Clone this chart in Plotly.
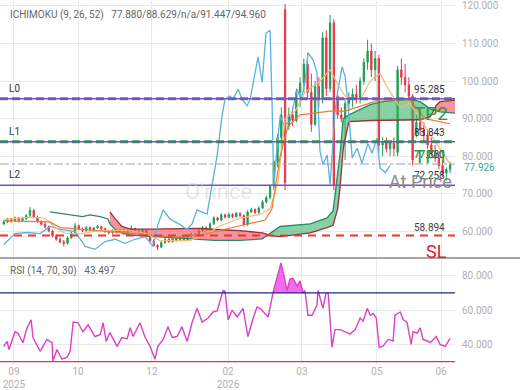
import plotly.graph_objects as go

# ---------------- data ----------------
opens = [62.0, 62.5, 63.2, 62.8, 63.5, 62.9, 63.4, 64.2, 65.6, 63.8,
         62.6, 61.9, 61.2, 60.1, 58.8, 57.9, 57.2, 56.8, 58.3, 59.6,
         61.5, 60.6, 60.2, 61.0, 60.4, 60.9, 61.3, 60.7, 60.0, 59.6,
         60.2, 59.8, 60.4, 59.5, 60.1, 60.8, 60.0, 59.2, 60.3, 58.7,
         57.5, 56.2, 55.8, 57.0, 57.9, 57.3, 58.1, 57.6, 58.4, 57.8,
         58.6, 59.3, 58.9, 60.2, 61.0, 60.5, 62.0, 63.6, 63.0, 64.4,
         63.8, 64.5, 63.9, 64.8, 64.2, 61.8, 65.2, 65.8, 65.0, 66.2,
         67.8, 69.0, 72.0, 78.5, 85.0, 119.0, 88.0, 91.0, 89.5, 97.0,
         99.5, 104.5, 97.0, 88.5, 98.5, 95.0, 111.5, 98.0, 115.5, 96.0,
         91.0, 90.0, 94.0, 95.0, 96.5, 95.0, 100.0, 105.0, 108.0, 103.0,
         106.0, 83.0, 84.0, 82.0, 83.5, 81.0, 103.0, 101.0, 99.0, 96.0,
         86.0, 89.0, 87.0, 85.5, 83.0, 81.0, 79.5, 77.5, 75.5, 76.5]
highs = [63.0, 63.6, 63.5, 64.0, 63.8, 63.9, 64.6, 66.5, 65.9, 64.2,
         63.0, 62.6, 61.6, 60.5, 59.3, 58.4, 57.7, 58.7, 59.9, 62.3,
         61.8, 61.0, 61.4, 61.3, 61.2, 61.7, 61.5, 61.0, 60.3, 60.6,
         60.5, 60.8, 60.6, 60.5, 61.6, 61.0, 60.3, 60.7, 60.5, 59.0,
         57.9, 56.6, 57.4, 58.3, 58.2, 58.5, 58.4, 58.8, 58.6, 59.0,
         59.6, 59.5, 60.5, 61.4, 61.3, 62.4, 64.0, 63.9, 64.8, 64.7,
         65.0, 64.8, 65.2, 65.1, 64.5, 65.6, 66.3, 66.1, 66.7, 68.3,
         69.5, 72.5, 79.0, 86.0, 93.0, 120.5, 93.0, 93.0, 98.0, 101.0,
         106.0, 107.5, 102.0, 100.0, 101.0, 113.0, 113.5, 117.6, 116.5, 97.0,
         93.0, 95.0, 97.0, 98.0, 99.0, 101.0, 106.0, 111.0, 110.0, 108.0,
         107.0, 85.0, 85.0, 84.0, 85.0, 104.0, 106.0, 104.5, 101.0, 96.5,
         91.0, 90.0, 89.0, 87.0, 85.0, 83.0, 81.0, 79.0, 77.0, 78.5]
lows = [61.6, 62.2, 62.3, 62.5, 62.4, 62.6, 63.0, 63.9, 63.5, 62.3,
        61.5, 60.8, 59.8, 58.4, 57.5, 56.8, 56.0, 56.5, 58.0, 59.3,
        60.2, 59.8, 59.9, 60.1, 60.0, 60.6, 60.4, 59.6, 59.2, 59.3,
        59.4, 59.5, 59.1, 59.2, 59.8, 59.7, 58.9, 59.0, 58.4, 57.2,
        55.9, 55.0, 55.5, 56.7, 56.9, 57.0, 57.2, 57.3, 57.4, 57.5,
        58.3, 58.5, 58.6, 59.9, 60.1, 60.2, 61.7, 62.6, 62.7, 63.4,
        63.5, 63.5, 63.6, 63.8, 61.3, 61.5, 64.9, 64.6, 64.7, 65.9,
        67.4, 68.5, 71.0, 77.0, 80.0, 71.0, 87.0, 88.0, 89.0, 93.0,
        97.0, 95.0, 86.5, 88.0, 93.0, 94.0, 96.0, 97.0, 71.0, 90.0,
        89.0, 79.0, 92.0, 93.0, 94.0, 94.0, 99.0, 103.0, 101.0, 100.0,
        81.0, 80.0, 81.0, 80.0, 80.0, 80.0, 99.0, 97.0, 95.0, 77.5,
        85.0, 86.0, 84.0, 82.0, 80.0, 78.5, 76.5, 74.5, 73.5, 75.5]
closes = [62.5, 63.2, 62.8, 63.5, 62.9, 63.4, 64.2, 65.6, 63.8, 62.6,
          61.9, 61.2, 60.1, 58.8, 57.9, 57.2, 56.8, 58.3, 59.6, 61.5,
          60.6, 60.2, 61.0, 60.4, 60.9, 61.3, 60.7, 60.0, 59.6, 60.2,
          59.8, 60.4, 59.5, 60.1, 60.8, 60.0, 59.2, 60.3, 58.7, 57.5,
          56.2, 55.8, 57.0, 57.9, 57.3, 58.1, 57.6, 58.4, 57.8, 58.6,
          59.3, 58.9, 60.2, 61.0, 60.5, 62.0, 63.6, 63.0, 64.4, 63.8,
          64.5, 63.9, 64.8, 64.2, 61.8, 65.2, 65.8, 65.0, 66.2, 67.8,
          69.0, 72.0, 78.5, 85.0, 91.0, 73.0, 91.0, 89.5, 97.0, 99.5,
          104.5, 97.0, 88.5, 98.5, 95.0, 111.5, 98.0, 115.5, 72.5, 91.0,
          90.0, 94.0, 95.0, 96.5, 95.0, 100.0, 105.0, 108.0, 103.0, 106.0,
          83.0, 84.0, 82.0, 83.5, 82.0, 103.0, 101.0, 99.0, 96.0, 79.0,
          89.0, 87.0, 85.5, 83.0, 81.0, 79.5, 77.5, 75.5, 76.5, 77.926]
bar_idx = list(range(len(closes)))

x_tickvals = [2.7, 19.8, 39.5, 59.8, 79.5, 99.5, 116.6]
x_ticktext = ["09<br>2025", "10", "12", "02<br>2026", "03", "05", "06"]

chikou_x = [0, 3, 6.2, 9.7, 12.3, 15, 19, 21.7, 24.3, 27, 29.7, 32.3, 35, 37.7, 39.8,
            41.1, 42.5, 44.3, 47, 48.9, 50.2, 51.5, 54.2, 55, 56.9, 58.2, 59, 60.3,
            61.1, 62.5, 63.5, 64.9, 65.7, 67.8, 68.9, 69.9, 71, 71.5, 72, 72.6, 73.7,
            74.7, 76.3, 78.2, 79.3, 80.3, 81.1, 82.5, 83.5, 84.3, 85.1, 86.2, 87,
            88.3, 89.1, 90.2, 91, 91.8, 92.9, 94.2, 95.5, 97.1, 98.2, 99.5, 100.3,
            101.7, 103]
chikou_y = [56.5, 59.4, 59.7, 59.4, 61.3, 60.5, 60.0, 56.0, 55.2, 57.3, 57.9, 56.8, 57.9,
            58.6, 56.0, 61.8, 65.7, 63.3, 61.8, 60.5, 62.0, 65.7, 64.6, 69.1, 80.3,
            90.8, 95.2, 96.0, 95.2, 97.8, 95.2, 93.4, 95.2, 106.4, 99.6, 112.7, 113.5,
            95.2, 71.7, 79.5, 90.8, 88.2, 89.2, 97.8, 95.2, 99.6, 107.5, 105.6, 102.2,
            81.4, 77.7, 80.3, 72.5, 91.8, 97.8, 103.8, 101.2, 93.4, 79.5, 82.1, 78.2,
            83.4, 80.8, 84.8, 76.9, 75.6, 77.5]

tenkan_x = [0, 7, 11, 13.7, 16.3, 20.3, 25.7, 33.7, 37.7, 41.7, 49.7, 53.7, 57.7, 63,
            68.3, 71, 73.1, 75, 77.7, 80.3, 84.3, 87, 89.1, 91, 95, 97.7, 100.3, 103,
            105.7, 108.3, 111, 115, 119]
tenkan_y = [63.2, 63.8, 63.5, 61.0, 59.5, 59.3, 60.3, 60.2, 59.5, 57.5, 57.6, 59.0, 61.5,
            63.5, 64.5, 66.0, 73.0, 90.0, 92.0, 97.0, 100.0, 103.0, 99.0, 96.0, 95.0,
            100.0, 102.0, 97.0, 93.0, 94.0, 90.0, 84.0, 77.88]

kijun_x = [0, 12.3, 15, 28.3, 39, 45.7, 52.3, 56.3, 63, 69.7, 71.5, 73.7, 75.8, 79, 87,
           91, 100.3, 108.3, 112.3, 119]
kijun_y = [62.8, 62.5, 61.0, 60.0, 59.0, 58.5, 59.0, 60.0, 61.5, 63.0, 66.0, 80.0, 88.0,
           91.0, 92.0, 92.0, 95.0, 95.0, 90.0, 88.629]

cloud_x = [12.3, 17, 21, 23, 25.7, 27.8, 28.3, 29.7, 31.5, 33.7, 39, 47, 52.3, 56.3, 63,
           68.9, 71.5, 73.7, 81.7, 86.2, 87.8, 89, 89.7, 90.5, 92, 97.7, 101, 108.3,
           111, 113.7, 115.3, 116.3, 120.3]
senkou_a = [65.2, 64.4, 63.9, 64.4, 63.9, 63.3, 62.0, 60.5, 59.5, 59.0, 58.7, 58.3, 57.9,
            57.6, 57.6, 58.0, 59.8, 61.3, 62.0, 63.6, 65.5, 76.0, 81.0, 90.0, 91.0, 93.7,
            94.5, 95.2, 94.5, 92.6, 92.0, 91.8, 91.447]
senkou_b = [None, None, None, None, None, None, 65.2, 63.3, 61.3, 60.6, 60.6, 60.8, 60.8,
            60.5, 60.2, 59.6, 58.8, 58.6, 59.6, 61.0, 61.6, 66.0, 72.0, 82.0, 89.2, 89.5,
            89.5, 89.5, 89.7, 90.5, 93.5, 94.5, 94.96]

rsi_x = [0, 0.9, 1.4, 3, 3.8, 5.1, 6.2, 7.3, 7.8, 9.7, 11.5, 12.9, 13.1, 14.2, 15.5, 16.9,
         17.7, 18.5, 19.8, 21.1, 22.5, 24.3, 25.7, 26.5, 27.3, 28.3, 30.2, 31.5, 32.9,
         33.7, 34.5, 36.3, 37.7, 39, 40.3, 41.1, 42.5, 43.8, 44.9, 46.2, 47.5, 48.9, 50.2,
         51.5, 52.9, 54.5, 55.8, 56.9, 57.7, 58.5, 59, 59.8, 60.9, 62.2, 63.8, 65.1, 66.5,
         67.5, 68.3, 70.5, 71.8, 73.1, 73.9, 74.7, 75.5, 76.3, 77.1, 78.2, 79, 79.8, 80.3,
         81.1, 82.2, 83.5, 83.8, 85.1, 85.9, 86.5, 87.5, 88.3, 89.7, 91.5, 92.3, 93.7, 95,
         95.8, 96.9, 97.7, 98.5, 99.3, 100.1, 101.1, 102.5, 103.8, 104.3, 105.7, 106.5,
         107.5, 108.6, 109.1, 110.2, 111, 111.8, 112.9, 113.7, 115.3, 116.3, 117.7, 119]
rsi_v = [38.9, 41.7, 37.0, 47.4, 46.5, 41.0, 49.7, 54.3, 44.0, 36.0, 42.9, 41.0, 30.3,
         37.0, 31.4, 32.6, 36.0, 53.0, 52.6, 47.4, 51.4, 44.6, 45.7, 52.6, 41.7, 46.9,
         38.9, 44.0, 43.4, 49.7, 44.6, 52.6, 44.0, 38.9, 31.4, 38.9, 42.9, 50.3, 44.0,
         44.6, 50.3, 41.7, 52.6, 61.0, 53.0, 55.4, 58.9, 59.5, 65.7, 71.4, 71.0, 54.3,
         60.0, 56.0, 61.0, 44.6, 55.4, 61.7, 61.0, 56.0, 70.3, 80.0, 87.5, 80.0, 71.4,
         78.0, 78.5, 74.0, 77.0, 70.0, 71.4, 57.0, 57.0, 62.9, 71.4, 61.0, 69.7, 69.7,
         38.3, 48.6, 48.6, 46.9, 46.0, 48.6, 55.4, 53.5, 61.0, 57.0, 58.0, 55.4, 38.3,
         39.0, 42.9, 42.0, 57.0, 58.9, 54.3, 53.0, 40.0, 47.4, 46.5, 49.7, 42.9, 42.0,
         41.0, 44.6, 40.0, 38.9, 43.497]

rsi_upper, rsi_lower = 70, 30
level_names = ["L0", "L1", "L2"]
level_values = [95.285, 83.843, 72.258]
tp_names = ["TP2", "TP1"]
current_price = 77.926
tenkan_last = 77.880
stop_loss = 58.894

ichimoku_text = "ICHIMOKU (9, 26, 52)&nbsp;&nbsp;&nbsp;77.880/88.629/n/a/91.447/94.960"
rsi_text = "RSI (14, 70, 30)&nbsp;&nbsp;&nbsp;43.497"

# ---------------- style ----------------
FONT = "Roboto, Arial, sans-serif"
GRID = "#e9e9e9"
TICK = "#b0b0b0"
UP, DOWN = "#1f9d55", "#e5364b"
PURPLE, LGREEN = "#7b4fc4", "#2e9a45"
X_RANGE = [-1, 120.3]
SPLIT = 108 / 370.0

fig = go.Figure()


def cloud_runs(xs, a, b):
    pts = [(x, p, q) for x, p, q in zip(xs, a, b) if p is not None and q is not None]
    runs, cur = [], [pts[0]]
    for (x0, a0, b0), (x1, a1, b1) in zip(pts, pts[1:]):
        d0, d1 = a0 - b0, a1 - b1
        if d0 * d1 < 0:
            t = d0 / (d0 - d1)
            xc, yc = x0 + t * (x1 - x0), a0 + t * (a1 - a0)
            cur.append((xc, yc, yc))
            runs.append(cur)
            cur = [(xc, yc, yc)]
        cur.append((x1, a1, b1))
    runs.append(cur)
    return runs


for run in cloud_runs(cloud_x, senkou_a, senkou_b):
    xs = [p[0] for p in run]
    ya = [p[1] for p in run]
    yb = [p[2] for p in run]
    up = sum(ya) >= sum(yb)
    fig.add_trace(go.Scatter(x=xs, y=yb, mode="lines", line=dict(width=0),
                             hoverinfo="skip", showlegend=False))
    fig.add_trace(go.Scatter(x=xs, y=ya, mode="lines", line=dict(width=0),
                             fill="tonexty",
                             fillcolor="rgba(60,180,110,0.62)" if up else "rgba(240,80,95,0.62)",
                             hoverinfo="skip", showlegend=False))

fig.add_trace(go.Scatter(x=cloud_x, y=senkou_a, mode="lines",
                         line=dict(color="#2a8a66", width=1.3), showlegend=False))
fig.add_trace(go.Scatter(x=cloud_x, y=senkou_b, mode="lines",
                         line=dict(color="#9b2d3c", width=1.3), showlegend=False))
fig.add_trace(go.Scatter(x=chikou_x, y=chikou_y, mode="lines",
                         line=dict(color="#5cb0e0", width=1.3), showlegend=False))
fig.add_trace(go.Candlestick(x=bar_idx, open=opens, high=highs, low=lows, close=closes,
                             increasing=dict(line=dict(color=UP, width=1), fillcolor=UP),
                             decreasing=dict(line=dict(color=DOWN, width=1), fillcolor=DOWN),
                             whiskerwidth=0, showlegend=False))
fig.add_trace(go.Scatter(x=tenkan_x, y=tenkan_y, mode="lines",
                         line=dict(color="#f6b874", width=1.2), showlegend=False))
fig.add_trace(go.Scatter(x=kijun_x, y=kijun_y, mode="lines",
                         line=dict(color="#ec7c32", width=1.2), showlegend=False))

# RSI overbought fill
seg = []
segs = []
pts = list(zip(rsi_x, rsi_v))
for (x0, v0), (x1, v1) in zip(pts, pts[1:]):
    if (v0 - rsi_upper) * (v1 - rsi_upper) < 0:
        xc = x0 + (rsi_upper - v0) / (v1 - v0) * (x1 - x0)
        if v0 > rsi_upper:
            seg.append((xc, rsi_upper))
            segs.append(seg)
            seg = []
        else:
            seg = [(xc, rsi_upper)]
    if v1 >= rsi_upper:
        seg.append((x1, v1))
if seg:
    segs.append(seg)
for s in segs:
    xs = [p[0] for p in s]
    ys = [p[1] for p in s]
    fig.add_trace(go.Scatter(x=xs + xs[::-1], y=ys + [rsi_upper] * len(xs), fill="toself",
                             mode="lines", line=dict(width=0), fillcolor="rgba(245,80,235,0.85)",
                             xaxis="x2", yaxis="y2", hoverinfo="skip", showlegend=False))
fig.add_trace(go.Scatter(x=rsi_x, y=rsi_v, mode="lines", line=dict(color="#dd3fc8", width=1.4),
                         xaxis="x2", yaxis="y2", showlegend=False))

shapes = []
for lv in level_values[:2]:
    shapes.append(dict(type="line", xref="paper", x0=0, x1=1, yref="y", y0=lv, y1=lv,
                       line=dict(color=LGREEN, width=3, dash="8px,4px"), layer="above"))
for lv in level_values:
    shapes.append(dict(type="line", xref="paper", x0=0, x1=1, yref="y", y0=lv, y1=lv,
                       line=dict(color=PURPLE, width=1.4), layer="above"))
shapes.append(dict(type="line", xref="paper", x0=0, x1=1, yref="y", y0=current_price,
                   y1=current_price, line=dict(color="#a0a0a0", width=1, dash="dashdot"),
                   layer="above"))
shapes.append(dict(type="line", xref="paper", x0=0, x1=1, yref="y", y0=stop_loss, y1=stop_loss,
                   line=dict(color="#e53935", width=2, dash="8px,6px"), layer="above"))
for v, c in [(rsi_upper, "#1f2a80"), (rsi_lower, "#e53935")]:
    shapes.append(dict(type="line", xref="paper", x0=0, x1=1, yref="y2", y0=v, y1=v,
                       line=dict(color=c, width=1.3), layer="above"))
shapes.append(dict(type="line", xref="paper", x0=0, x1=1.143, yref="paper", y0=SPLIT, y1=SPLIT,
                   line=dict(color="#8a8a8a", width=1.5), layer="above"))

ann = []
ann.append(dict(text=ichimoku_text, xref="paper", yref="paper", x=0.017, y=1 - 14 / 370.0,
                xanchor="left", yanchor="middle", showarrow=False,
                font=dict(size=10, color="#666", family=FONT)))
ann.append(dict(text=rsi_text, xref="paper", yref="paper", x=0.017, y=1 - 275 / 370.0,
                xanchor="left", yanchor="middle", showarrow=False,
                font=dict(size=10, color="#666", family=FONT)))
for name, lv in zip(level_names, level_values):
    ann.append(dict(text=name, xref="paper", yref="y", x=0.015, y=lv, xanchor="left",
                    yanchor="bottom", yshift=3, showarrow=False,
                    font=dict(size=10, color="#333", family=FONT)))
for lv in level_values + [tenkan_last]:
    ann.append(dict(text=f"{lv:.3f}", xref="paper", yref="y", x=0.945, y=lv, xanchor="center",
                    yanchor="bottom", yshift=2, showarrow=False,
                    font=dict(size=10, color="#333", family=FONT)))
ann.append(dict(text=f"{stop_loss:.3f}", xref="paper", yref="y", x=0.945, y=stop_loss,
                xanchor="center", yanchor="bottom", yshift=1, showarrow=False,
                font=dict(size=10, color="#444", family=FONT)))
for name, lv in zip(tp_names, level_values[:2]):
    ann.append(dict(text=name, xref="paper", yref="y", x=0.948, y=lv, xanchor="center",
                    yanchor="top", yshift=-1, showarrow=False,
                    font=dict(size=19, color="#2e9a3a", family=FONT)))
ann.append(dict(text="At Price", xref="paper", yref="y", x=0.925, y=current_price,
                xanchor="center", yanchor="top", yshift=-5, showarrow=False,
                font=dict(size=18, color="#8a8a8a", family=FONT)))
ann.append(dict(text="SL", xref="paper", yref="y", x=0.96, y=stop_loss, xanchor="center",
                yanchor="top", yshift=-3, showarrow=False,
                font=dict(size=18, color="#e0202e", family=FONT)))
ann.append(dict(text=f"{current_price:.3f}", xref="paper", yref="y", x=1, y=current_price,
                xanchor="left", yanchor="top", xshift=7, yshift=4, showarrow=False,
                font=dict(size=10, color="#35a596", family=FONT)))
ann.append(dict(text="O'rince", xref="paper", yref="y", x=0.48, y=70.5, xanchor="center",
                yanchor="middle", showarrow=False,
                font=dict(size=22, color="rgba(200,200,210,0.45)", family=FONT)))

axis_common = dict(showgrid=True, gridcolor=GRID, gridwidth=1, zeroline=False,
                   showline=False, ticks="")
fig.update_layout(
    width=520, height=390, margin=dict(l=0, r=65, t=0, b=20),
    paper_bgcolor="white", plot_bgcolor="white", showlegend=False,
    font=dict(family=FONT, size=10, color=TICK),
    hovermode=False, boxgap=0.5,
    xaxis=dict(type="linear", autorange=False, domain=[0, 1], anchor="y", range=X_RANGE,
               tickvals=x_tickvals, showticklabels=False, rangeslider=dict(visible=False),
               **axis_common),
    xaxis2=dict(type="linear", autorange=False, domain=[0, 1], anchor="y2", range=X_RANGE,
                tickvals=x_tickvals, ticktext=x_ticktext, tickfont=dict(size=10, color=TICK),
                **axis_common),
    yaxis=dict(type="linear", autorange=False, domain=[SPLIT, 1], anchor="x",
               range=[52.9, 121.3], side="right",
               tickvals=[60, 70, 80, 90, 100, 110, 120], tickformat=".3f",
               tickfont=dict(size=10, color=TICK), ticklabelstandoff=6,
               ticklabeloverflow="allow", **axis_common),
    yaxis2=dict(type="linear", autorange=False, domain=[0, SPLIT], anchor="x2",
                range=[28.6, 90.3], side="right",
                tickvals=[40, 60, 80], tickformat=".3f",
                tickfont=dict(size=10, color=TICK), ticklabelstandoff=6, **axis_common),
    shapes=shapes, annotations=ann,
)

fig.write_html("out.html")
